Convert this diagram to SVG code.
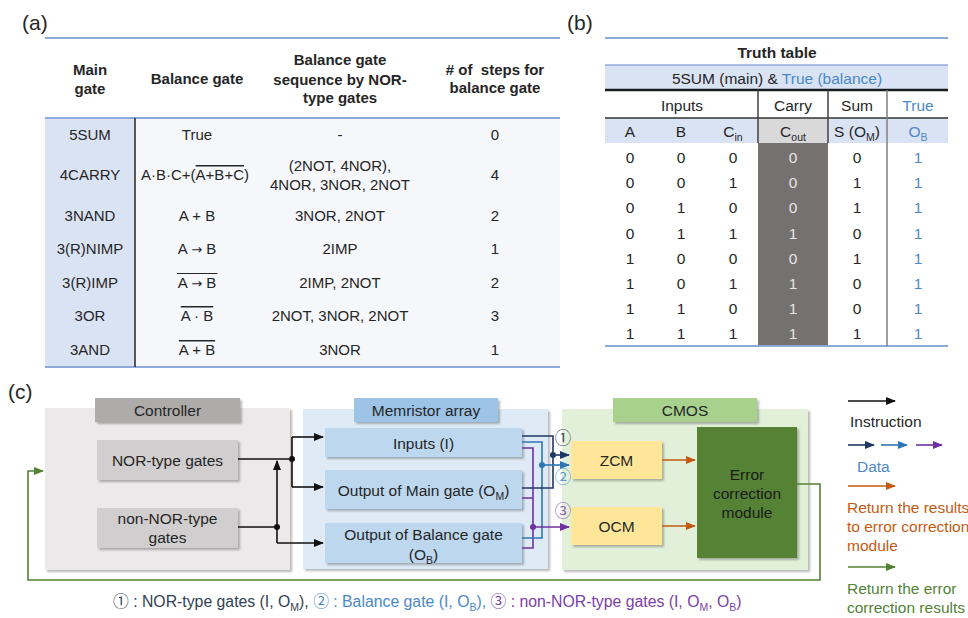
<svg xmlns="http://www.w3.org/2000/svg" width="968" height="618" viewBox="0 0 968 618">
<style>
text{font-family:"Liberation Sans",Arial,"Noto Sans CJK SC",sans-serif;fill:#262626}
.pl{font-size:21px}
.ta{font-size:15px;text-anchor:middle}
.tah{font-size:15px;font-weight:bold;text-anchor:middle}
.tb{font-size:15.5px;text-anchor:middle}
.tbh{font-size:15.5px;font-weight:bold;text-anchor:middle}
.blue{fill:#4a89c8}
.cw{fill:#e4e4e4}
.hl{stroke:#8eaadb;stroke-width:2}
.bx{font-size:15.5px;text-anchor:middle}
.lg{font-size:15.5px}
.ov{text-decoration:overline}
.arr{font-family:"DejaVu Sans",sans-serif;font-size:13px}
.sub{font-size:10.5px}
.blk{fill:none;stroke:#111;stroke-width:1.6}
.nav{fill:none;stroke:#203864;stroke-width:1.6}
.lbl{fill:none;stroke:#2e75b6;stroke-width:1.6}
.pur{fill:none;stroke:#7030a0;stroke-width:1.6}
.org{fill:none;stroke:#c55a11;stroke-width:1.6}
.grn{fill:none;stroke:#548235;stroke-width:1.6}
.shd{filter:url(#sh)}
</style>
<defs>
<filter id="sh" x="-10%" y="-10%" width="130%" height="140%">
<feDropShadow dx="2" dy="2" stdDeviation="1.3" flood-color="#000" flood-opacity="0.28"/>
</filter>
<marker id="aK" markerUnits="userSpaceOnUse" markerWidth="10" markerHeight="8" refX="9" refY="4" orient="auto"><path d="M0,0 L10,4 L0,8 z" fill="#111"/></marker>
<marker id="aN" markerUnits="userSpaceOnUse" markerWidth="10" markerHeight="8" refX="9" refY="4" orient="auto"><path d="M0,0 L10,4 L0,8 z" fill="#203864"/></marker>
<marker id="aB" markerUnits="userSpaceOnUse" markerWidth="10" markerHeight="8" refX="9" refY="4" orient="auto"><path d="M0,0 L10,4 L0,8 z" fill="#2e75b6"/></marker>
<marker id="aP" markerUnits="userSpaceOnUse" markerWidth="10" markerHeight="8" refX="9" refY="4" orient="auto"><path d="M0,0 L10,4 L0,8 z" fill="#7030a0"/></marker>
<marker id="aO" markerUnits="userSpaceOnUse" markerWidth="10" markerHeight="8" refX="9" refY="4" orient="auto"><path d="M0,0 L10,4 L0,8 z" fill="#c55a11"/></marker>
<marker id="aG" markerUnits="userSpaceOnUse" markerWidth="10" markerHeight="8" refX="9" refY="4" orient="auto"><path d="M0,0 L10,4 L0,8 z" fill="#548235"/></marker>
</defs>

<rect width="968" height="618" fill="#fff"/>

<!-- (a) balance gate table -->
<g id="table-a">
<text x="22" y="30" class="pl">(a)</text>
<rect x="45" y="118" width="90" height="249" fill="#dae3f3"/>
<rect x="135" y="118" width="425" height="249" fill="#f5f7fb"/>
<line x1="45" y1="38" x2="560" y2="38" class="hl"/>
<line x1="45" y1="118" x2="560" y2="118" class="hl"/>
<line x1="45" y1="367" x2="560" y2="367" class="hl"/>
<line x1="135" y1="118" x2="135" y2="367" stroke="#262626" stroke-width="1.5"/>
<text class="tah"><tspan x="90" y="75">Main</tspan><tspan x="90" y="94">gate</tspan></text>
<text class="tah" x="197" y="84">Balance gate</text>
<text class="tah"><tspan x="340" y="65">Balance gate</tspan><tspan x="340" y="85">sequence by NOR-</tspan><tspan x="340" y="103">type gates</tspan></text>
<text class="tah" xml:space="preserve"><tspan x="495" y="75"># of  steps for</tspan><tspan x="495" y="93">balance gate</tspan></text>

<text class="ta" x="90" y="140">5SUM</text>
<text class="ta" x="197" y="140">True</text>
<text class="ta" x="340" y="140">-</text>
<text class="ta" x="495" y="140">0</text>

<text class="ta" x="195" y="180" style="font-size:15px">A·B·C+(<tspan class="ov">A+B+C</tspan>)</text>
<text class="ta" x="90" y="180">4CARRY</text>
<text class="ta"><tspan x="340" y="171">(2NOT, 4NOR),</tspan><tspan x="340" y="190">4NOR, 3NOR, 2NOT</tspan></text>
<text class="ta" x="495" y="180">4</text>

<text class="ta" x="90" y="221">3NAND</text>
<text class="ta" x="197" y="221">A + B</text>
<text class="ta" x="340" y="221">3NOR, 2NOT</text>
<text class="ta" x="495" y="221">2</text>

<text class="ta" x="90" y="254">3(R)NIMP</text>
<text class="ta" x="197" y="254">A <tspan class="arr">→</tspan> B</text>
<text class="ta" x="340" y="254">2IMP</text>
<text class="ta" x="495" y="254">1</text>

<text class="ta" x="90" y="288">3(R)IMP</text>
<text class="ta" x="197" y="288">A <tspan class="arr">→</tspan> B</text>
<line x1="177" y1="273.5" x2="217.5" y2="273.5" stroke="#262626" stroke-width="1"/>
<text class="ta" x="340" y="288">2IMP, 2NOT</text>
<text class="ta" x="495" y="288">2</text>

<text class="ta" x="90" y="321">3OR</text>
<text class="ta ov" x="197" y="321">A · B</text>
<text class="ta" x="340" y="321">2NOT, 3NOR, 2NOT</text>
<text class="ta" x="495" y="321">3</text>

<text class="ta" x="90" y="355">3AND</text>
<text class="ta ov" x="197" y="355">A + B</text>
<text class="ta" x="340" y="355">3NOR</text>
<text class="ta" x="495" y="355">1</text>
</g>

<!-- (b) truth table -->
<g id="table-b">
<text x="567" y="30" class="pl">(b)</text>
<rect x="605" y="65" width="343" height="25" fill="#dae3f3"/>
<rect x="605" y="118" width="343" height="25" fill="#dae3f3"/>
<rect x="758" y="118" width="70" height="25" fill="#d9d9d9"/>
<rect x="758" y="143" width="70" height="203" fill="#767171"/>
<line x1="605" y1="38" x2="948" y2="38" class="hl"/>
<line x1="605" y1="65" x2="948" y2="65" stroke="#8eaadb" stroke-width="1.5"/>
<line x1="605" y1="90" x2="948" y2="90" stroke="#1a1a1a" stroke-width="2.5"/>
<line x1="605" y1="118" x2="948" y2="118" stroke="#333" stroke-width="1.5"/>
<line x1="605" y1="346" x2="948" y2="346" class="hl"/>
<line x1="758" y1="90" x2="758" y2="143" stroke="#404040" stroke-width="1.5"/>
<line x1="828" y1="90" x2="828" y2="143" stroke="#404040" stroke-width="1.5"/>
<line x1="887" y1="90" x2="887" y2="346" stroke="#7f7f7f" stroke-width="1.5"/>

<text class="tbh" x="777" y="57.5">Truth table</text>
<text class="tb" x="777" y="83.5">5SUM (main) &amp; <tspan class="blue">True (balance)</tspan></text>
<text class="tb" x="682" y="110.5">Inputs</text>
<text class="tb" x="793" y="110.5">Carry</text>
<text class="tb" x="857" y="110.5">Sum</text>
<text class="tb blue" x="918" y="110.5">True</text>

<text class="tb" x="630" y="137">A</text>
<text class="tb" x="681" y="137">B</text>
<text class="tb" x="733" y="137">C<tspan class="sub" dy="4">in</tspan></text>
<text class="tb" x="793" y="137">C<tspan class="sub" dy="4">out</tspan></text>
<text class="tb" x="857" y="137">S (O<tspan class="sub" dy="4">M</tspan><tspan dy="-4">)</tspan></text>
<text class="tb blue" x="918" y="137">O<tspan class="sub" dy="4">B</tspan></text>

<g class="tb">
<text class="tb" x="630" y="162.5">0</text><text class="tb" x="681" y="162.5">0</text><text class="tb" x="733" y="162.5">0</text><text class="tb cw" x="793" y="162.5">0</text><text class="tb" x="857" y="162.5">0</text><text class="tb blue" x="918" y="162.5">1</text>
<text class="tb" x="630" y="187.5">0</text><text class="tb" x="681" y="187.5">0</text><text class="tb" x="733" y="187.5">1</text><text class="tb cw" x="793" y="187.5">0</text><text class="tb" x="857" y="187.5">1</text><text class="tb blue" x="918" y="187.5">1</text>
<text class="tb" x="630" y="212.5">0</text><text class="tb" x="681" y="212.5">1</text><text class="tb" x="733" y="212.5">0</text><text class="tb cw" x="793" y="212.5">0</text><text class="tb" x="857" y="212.5">1</text><text class="tb blue" x="918" y="212.5">1</text>
<text class="tb" x="630" y="238.5">0</text><text class="tb" x="681" y="238.5">1</text><text class="tb" x="733" y="238.5">1</text><text class="tb cw" x="793" y="238.5">1</text><text class="tb" x="857" y="238.5">0</text><text class="tb blue" x="918" y="238.5">1</text>
<text class="tb" x="630" y="263.5">1</text><text class="tb" x="681" y="263.5">0</text><text class="tb" x="733" y="263.5">0</text><text class="tb cw" x="793" y="263.5">0</text><text class="tb" x="857" y="263.5">1</text><text class="tb blue" x="918" y="263.5">1</text>
<text class="tb" x="630" y="288.5">1</text><text class="tb" x="681" y="288.5">0</text><text class="tb" x="733" y="288.5">1</text><text class="tb cw" x="793" y="288.5">1</text><text class="tb" x="857" y="288.5">0</text><text class="tb blue" x="918" y="288.5">1</text>
<text class="tb" x="630" y="313.5">1</text><text class="tb" x="681" y="313.5">1</text><text class="tb" x="733" y="313.5">0</text><text class="tb cw" x="793" y="313.5">1</text><text class="tb" x="857" y="313.5">0</text><text class="tb blue" x="918" y="313.5">1</text>
<text class="tb" x="630" y="338.5">1</text><text class="tb" x="681" y="338.5">1</text><text class="tb" x="733" y="338.5">1</text><text class="tb cw" x="793" y="338.5">1</text><text class="tb" x="857" y="338.5">1</text><text class="tb blue" x="918" y="338.5">1</text>
</g>
</g>

<!-- (c) system block diagram -->
<text x="8" y="399" class="pl">(c)</text>

<g id="controller">
<rect x="45" y="408" width="245" height="162" fill="#ebe9e9" class="shd"/>
<rect x="95" y="398" width="145" height="24" fill="#aeabab" class="shd"/>
<text class="bx" x="167.5" y="415.5">Controller</text>
</g>
<g id="nor-gates">
<rect x="97" y="440" width="141" height="40" fill="#d0cece" class="shd"/>
<text class="bx" x="167.5" y="465.5">NOR-type gates</text>
</g>
<g id="non-nor-gates">
<rect x="97" y="508" width="141" height="40" fill="#d0cece" class="shd"/>
<text class="bx"><tspan x="167.5" y="523.5">non-NOR-type</tspan><tspan x="167.5" y="542.5">gates</tspan></text>
</g>

<g id="memristor-array">
<rect x="303" y="409" width="245" height="160" fill="#deebf7" class="shd"/>
<rect x="354" y="398" width="144" height="24" fill="#9dc3e6" class="shd"/>
<text class="bx" x="426" y="415.5">Memristor array</text>
</g>
<g id="inputs">
<rect x="325" y="428" width="197" height="29" fill="#bdd7ee" class="shd"/>
<text class="bx" x="423.5" y="448.5">Inputs (I)</text>
</g>
<g id="out-main">
<rect x="325" y="470" width="197" height="39" fill="#bdd7ee" class="shd"/>
<text class="bx" x="423.5" y="495.5">Output of Main gate (O<tspan class="sub" dy="4">M</tspan><tspan dy="-4">)</tspan></text>
</g>
<g id="out-balance">
<rect x="325" y="523" width="197" height="40" fill="#bdd7ee" class="shd"/>
<text class="bx"><tspan x="423.5" y="539.5">Output of Balance gate</tspan><tspan x="423.5" y="559.5">(O</tspan><tspan class="sub" dy="4">B</tspan><tspan dy="-4">)</tspan></text>
</g>

<g id="cmos">
<rect x="562" y="409" width="246" height="161" fill="#e2f0d9" class="shd"/>
<rect x="613" y="398" width="144" height="24" fill="#a9d18e" class="shd"/>
<text class="bx" x="685" y="415.5">CMOS</text>
</g>
<g id="zcm">
<rect x="571" y="441" width="91" height="38" fill="#ffe699" class="shd"/>
<text class="bx" x="616.5" y="465.5">ZCM</text>
</g>
<g id="ocm">
<rect x="571" y="507" width="91" height="38" fill="#ffe699" class="shd"/>
<text class="bx" x="616.5" y="531.5">OCM</text>
</g>
<g id="error-correction">
<rect x="697" y="427" width="100" height="131" fill="#548235" class="shd"/>
<text class="bx" style="fill:#1a1a1a"><tspan x="747" y="479.5">Error</tspan><tspan x="747" y="498.5">correction</tspan><tspan x="747" y="517.5">module</tspan></text>
</g>

<g id="connectors">
<!-- instruction lines -->
<path class="blk" d="M238,459 H292"/>
<path class="blk" d="M292,437 V487"/>
<path class="blk" d="M292,437 H323" marker-end="url(#aK)"/>
<path class="blk" d="M292,487 H323" marker-end="url(#aK)"/>
<circle cx="292" cy="459" r="3" fill="#111"/>
<path class="blk" d="M238,527 H277"/>
<path class="blk" d="M277,543 V461" marker-end="url(#aK)"/>
<path class="blk" d="M277,543 H323" marker-end="url(#aK)"/>
<circle cx="277" cy="527" r="3" fill="#111"/>
<!-- data lines -->
<path class="pur" d="M522,448 H533 V548 H522 M522,498 H533"/>
<path class="lbl" d="M522,442 H542 V538 H522"/>
<path class="nav" d="M522,436 H553 V488 H522"/>
<path class="nav" d="M553,455 H569" marker-end="url(#aN)"/>
<circle cx="553" cy="455" r="3" fill="#203864"/>
<path class="lbl" d="M542,465 H569" marker-end="url(#aB)"/>
<circle cx="542" cy="465" r="3" fill="#2e75b6"/>
<path class="pur" d="M533,527 H569" marker-end="url(#aP)"/>
<circle cx="533" cy="527" r="3" fill="#7030a0"/>
<text x="563" y="444" style="font-size:16.5px;text-anchor:middle;fill:#404a5a">①</text>
<text x="563" y="483" style="font-size:16.5px;text-anchor:middle;fill:#5b9bd5">②</text>
<text x="563" y="517" style="font-size:16.5px;text-anchor:middle;fill:#8e5cb8">③</text>
<!-- results to error correction -->
<path class="org" d="M662,460 H695" marker-end="url(#aO)"/>
<path class="org" d="M662,526 H695" marker-end="url(#aO)"/>
<!-- feedback to controller -->
<path class="grn" d="M797,484 H820 V580 H28 V471 H43" marker-end="url(#aG)"/>
</g>

<g id="legend">
<path class="blk" d="M848,401 H895" marker-end="url(#aK)"/>
<text class="lg" x="850" y="427">Instruction</text>
<path class="nav" d="M848,445 H874" marker-end="url(#aN)"/>
<path class="lbl" d="M881,445 H907" marker-end="url(#aB)"/>
<path class="pur" d="M916,445 H942" marker-end="url(#aP)"/>
<text class="lg blue" x="857" y="471.5">Data</text>
<path class="org" d="M848,486 H895" marker-end="url(#aO)"/>
<text class="lg" style="fill:#c55a11"><tspan x="847" y="512.5">Return the results</tspan><tspan x="847" y="532">to error correction</tspan><tspan x="847" y="550.5">module</tspan></text>
<path class="grn" d="M848,567 H895" marker-end="url(#aG)"/>
<text class="lg" style="fill:#548235"><tspan x="847" y="593.5">Return the error</tspan><tspan x="847" y="612.5">correction results</tspan></text>
</g>

<g id="caption">
<text x="113" y="607" style="font-size:15.8px"><tspan style="fill:#333f50">① : NOR-type gates (I, O</tspan><tspan class="sub" dy="4" style="fill:#333f50">M</tspan><tspan dy="-4" style="fill:#333f50">), </tspan><tspan style="fill:#4a89c8">② : Balance gate (I, O</tspan><tspan class="sub" dy="4" style="fill:#4a89c8">B</tspan><tspan dy="-4" style="fill:#4a89c8">), </tspan><tspan style="fill:#7a3fa8">③ : non-NOR-type gates (I, O</tspan><tspan class="sub" dy="4" style="fill:#7a3fa8">M</tspan><tspan dy="-4" style="fill:#7a3fa8">, O</tspan><tspan class="sub" dy="4" style="fill:#7a3fa8">B</tspan><tspan dy="-4" style="fill:#7a3fa8">)</tspan></text>
</g>
</svg>
